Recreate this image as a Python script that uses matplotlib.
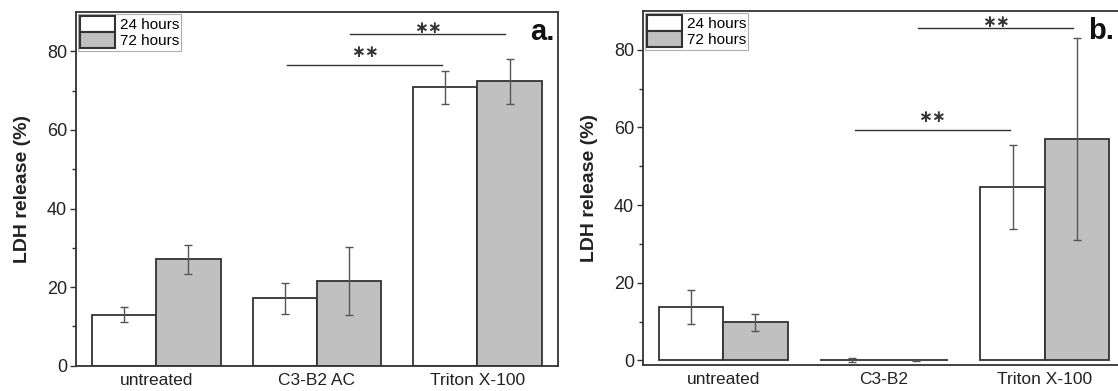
import matplotlib
matplotlib.use("Agg")
import matplotlib.pyplot as plt
import numpy as np

plt.rcParams['font.family'] = ['Liberation Sans', 'DejaVu Sans']

# panel a
cats_a = ['untreated', 'C3-B2 AC', 'Triton X-100']
a_24 = [13.0, 17.1, 70.8]
a_24_err = [2.0, 3.95, 4.3]
a_72 = [27.1, 21.6, 72.4]
a_72_err = [3.7, 8.7, 5.7]
# significance brackets: (x0, x1, line y, star y)
a_sig = [(0.815, 1.782, 76.4, 79.7), (1.207, 2.171, 84.3, 85.9)]

# panel b
cats_b = ['untreated', 'C3-B2', 'Triton X-100']
b_24 = [13.7, 0.1, 44.7]
b_24_err = [4.4, 0.6, 10.8]
b_72 = [9.8, 0.05, 57.0]
b_72_err = [2.2, 0.1, 26.0]
b_sig = [(0.817, 1.785, 59.3, 62.7), (1.210, 2.177, 85.5, 87.1)]

series_labels = ['24 hours', '72 hours']

EDGE = '#333333'
GREY = '#c0c0c0'
ERR = '#555555'


def panel(ax, cats, v24, e24, v72, e72, sig, ylim, tag, tag_x):
    x = np.arange(len(cats))
    w = 0.4
    eb = dict(ecolor=ERR, elinewidth=1.0, capsize=2.8, capthick=1.0)
    b1 = ax.bar(x - w / 2, v24, w, yerr=e24, color='white', edgecolor=EDGE,
                linewidth=1.3, error_kw=eb, label=series_labels[0])
    b2 = ax.bar(x + w / 2, v72, w, yerr=e72, color=GREY, edgecolor=EDGE,
                linewidth=1.3, error_kw=eb, label=series_labels[1])
    for x0, x1, y, ty in sig:
        ax.plot([x0, x1], [y, y], color=EDGE, lw=1.0)
        ax.text((x0 + x1) / 2, ty, '\u2217\u2217', ha='center',
                va='center', fontsize=12, fontweight='bold', color=EDGE,
                family='DejaVu Sans')
    ax.set_xlim(-0.5, 2.5)
    ax.set_ylim(*ylim)
    ax.set_xticks(x)
    ax.set_xticklabels(cats, fontsize=12.5, color='#222222')
    ax.tick_params(axis='x', length=0, pad=5)
    ax.set_yticks([0, 20, 40, 60, 80])
    ax.set_yticks([10, 30, 50, 70], minor=True)
    ax.tick_params(axis='y', which='major', direction='out', length=4.5, width=1,
                   color=EDGE, labelsize=13, labelcolor='#222222', pad=2)
    ax.tick_params(axis='y', which='minor', direction='out', length=3, width=1,
                   color=EDGE)
    for s in ax.spines.values():
        s.set_color(EDGE)
        s.set_linewidth(1.3)
    ax.set_ylabel('LDH release (%)', fontsize=14, fontweight='bold',
                  color='#222222', labelpad=11)
    leg = ax.legend(handles=[b1, b2], loc='upper left', fontsize=11,
                    frameon=True, fancybox=False, handlelength=2.3,
                    handleheight=1.25, handletextpad=0.3, labelspacing=0.0,
                    borderpad=0.15, borderaxespad=0.1)
    leg.get_frame().set_edgecolor('#999999')
    leg.get_frame().set_linewidth(0.8)
    for p in leg.get_patches():
        p.set_linewidth(1.5)
    ax.text(tag_x, 0.944, tag, transform=ax.transAxes, ha='center', va='center',
            fontsize=21, fontweight='bold', color='#111111')


fig = plt.figure(figsize=(11.18, 3.91), dpi=100)
ax_a = fig.add_axes([76 / 1118, 25.3 / 391, 481.7 / 1118, 353.7 / 391])
ax_b = fig.add_axes([643 / 1118, 26 / 391, 482 / 1118, 354 / 391])

panel(ax_a, cats_a, a_24, a_24_err, a_72, a_72_err, a_sig, (0, 90), 'a.', 0.968)
# the reference crops "b." at the right edge; keep it just inside the figure
panel(ax_b, cats_b, b_24, b_24_err, b_72, b_72_err, b_sig, (-1.2, 90), 'b.', 0.95)

fig.savefig('out.png', dpi=100)
